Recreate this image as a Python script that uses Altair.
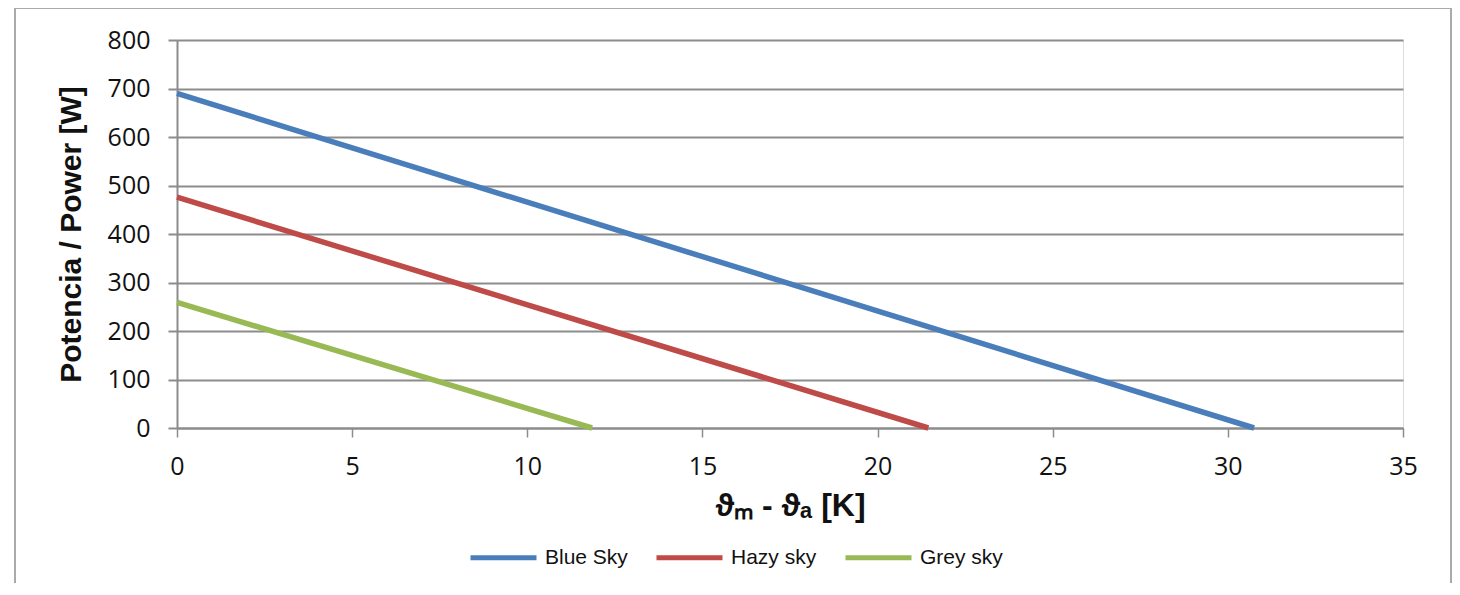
import altair as alt
import pandas as pd

series = ["Blue Sky", "Hazy sky", "Grey sky"]
colors = ["#4A7EBB", "#BE4B48", "#98B954"]
x_start = [0, 0, 0]
y_start = [690, 476, 259]
x_end = [30.75, 21.45, 11.85]
y_end = [0, 0, 0]

x_ticks = [0, 5, 10, 15, 20, 25, 30, 35]
y_ticks = [0, 100, 200, 300, 400, 500, 600, 700, 800]

rows = []
for s, xs, ys, xe, ye in zip(series, x_start, y_start, x_end, y_end):
    rows.append({"series": s, "x": xs, "y": ys})
    rows.append({"series": s, "x": xe, "y": ye})
df = pd.DataFrame(rows)

W, H = 1226, 388
grey = "#8c8c8c"

lines = alt.Chart(df).mark_line(strokeWidth=5.5, strokeCap="butt").encode(
    x=alt.X("x:Q",
            scale=alt.Scale(domain=[0, 35], nice=False),
            axis=alt.Axis(values=x_ticks, title="ϑₘ - ϑₐ [K]", grid=False,
                          tickColor=grey, tickSize=9, tickWidth=1.5,
                          domainColor=grey, domainWidth=2,
                          labelFlush=False,
                          labelFont="Open Sans", labelFontSize=25, labelColor="#111",
                          labelPadding=17,
                          titleFont="Liberation Sans", titleFontSize=32,
                          titleFontWeight="bold", titleColor="#111", titlePadding=11)),
    y=alt.Y("y:Q",
            scale=alt.Scale(domain=[0, 800], nice=False),
            axis=alt.Axis(values=y_ticks, title="Potencia / Power [W]",
                          grid=True, gridColor=grey, gridWidth=2,
                          tickColor=grey, tickSize=9, tickWidth=2,
                          domainColor=grey, domainWidth=2,
                          labelFlush=False,
                          labelFont="Open Sans", labelFontSize=25, labelColor="#111",
                          labelPadding=18,
                          titleFont="Liberation Sans", titleFontSize=30,
                          titleFontWeight="bold", titleColor="#111", titlePadding=21)),
    color=alt.Color("series:N",
                    scale=alt.Scale(domain=series, range=colors),
                    sort=series,
                    legend=alt.Legend(title=None, orient="none", direction="horizontal",
                                      legendX=291, legendY=482,
                                      symbolType="stroke", symbolSize=4356,
                                      symbolStrokeWidth=5,
                                      labelFont="Liberation Sans", labelFontSize=21,
                                      labelColor="#111", labelOffset=6,
                                      columnPadding=18)),
)

frame_df = pd.DataFrame({"k": [0]})
left = alt.Chart(frame_df).mark_rule(color="#aaaaaa", strokeWidth=2).encode(
    x=alt.value(-162), y=alt.value(-32), y2=alt.value(H + 160))
right = alt.Chart(frame_df).mark_rule(color="#aaaaaa", strokeWidth=2).encode(
    x=alt.value(1274), y=alt.value(-32), y2=alt.value(H + 160))
top = alt.Chart(frame_df).mark_rule(color="#aaaaaa", strokeWidth=2).encode(
    x=alt.value(-162), x2=alt.value(1274), y=alt.value(-32))

chart = alt.layer(lines, left, right, top).properties(
    width=W, height=H,
    autosize=alt.AutoSizeParams(type="none"),
    padding={"left": 169, "top": 32, "right": 49, "bottom": 155},
).configure_view(stroke=None).configure(background="white")

chart.save("out.html", embed_options={"renderer": "svg", "actions": False})
